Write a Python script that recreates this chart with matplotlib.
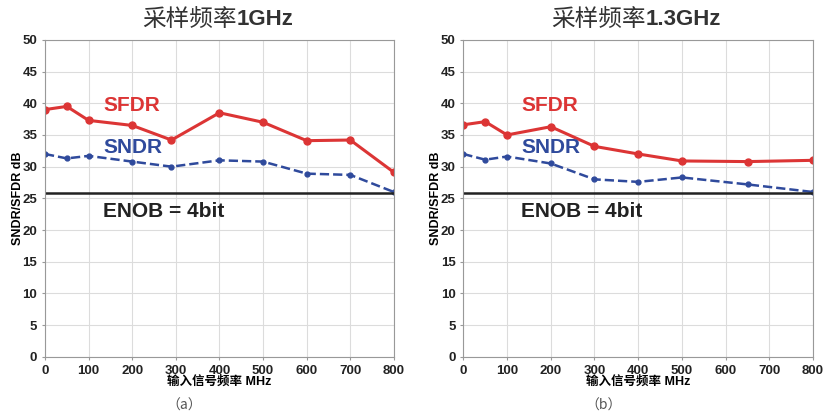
import matplotlib
matplotlib.use("Agg")
import matplotlib.pyplot as plt

plt.rcParams['font.family'] = ['Liberation Sans', 'Noto Sans CJK SC', 'DejaVu Sans']

# (a) 1 GHz sampling
freq_a = [0, 50, 100, 200, 290, 400, 500, 600, 700, 800]
sfdr_a = [39.0, 39.5, 37.3, 36.5, 34.2, 38.5, 37.0, 34.1, 34.2, 29.1]
sndr_a = [32.0, 31.3, 31.7, 30.8, 30.0, 31.0, 30.8, 28.9, 28.7, 26.0]

# (b) 1.3 GHz sampling
freq_b = [0, 50, 100, 200, 300, 400, 500, 650, 800]
sfdr_b = [36.6, 37.1, 35.0, 36.3, 33.2, 32.0, 30.9, 30.8, 31.0]
sndr_b = [32.0, 31.1, 31.6, 30.5, 28.0, 27.6, 28.3, 27.2, 26.0]

enob_db = 6.02 * 4 + 1.76
titles_cn = ['采样频率', '采样频率']
titles_en = ['1GHz', '1.3GHz']
sub_labels = ['（a）', '（b）']

red = '#dc3535'
blue = '#2f4a9c'

fig = plt.figure(figsize=(8.25, 4.15), dpi=100)
axes = [fig.add_axes([0.0545, 0.14, 0.423, 0.764]),
        fig.add_axes([0.5616, 0.14, 0.424, 0.764])]

data = [(freq_a, sfdr_a, sndr_a), (freq_b, sfdr_b, sndr_b)]
title_x = [0.55, 0.52]

for i, ax in enumerate(axes):
    f, sfdr, sndr = data[i]
    ax.plot(f, sfdr, '-o', color=red, lw=2.2, ms=5)
    ax.plot(f, sndr, '--o', color=blue, lw=1.8, ms=3.5)
    ax.axhline(enob_db, color='#222222', lw=1.8)

    ax.set_xlim(0, 800)
    ax.set_ylim(0, 50)
    ax.set_xticks(range(0, 801, 100))
    ax.set_yticks(range(0, 51, 5))
    ax.grid(True, color='#dcdcdc', lw=0.8)
    for s in ax.spines.values():
        s.set_color('#999999')
    ax.tick_params(labelsize=9.5, colors='#999999', labelcolor='#222222', length=2)
    for lab in ax.get_xticklabels() + ax.get_yticklabels():
        lab.set_fontweight('bold')

    ax.set_ylabel('SNDR/SFDR dB', fontsize=9, fontweight='bold', labelpad=-1)
    ax.set_xlabel('输入信号频率 MHz', fontsize=9, fontweight='bold', labelpad=-1)

    ax.text(133, 39.7, 'SFDR', color=red, fontsize=15, fontweight='bold', va='center')
    ax.text(133, 33.0, 'SNDR', color=blue, fontsize=15, fontweight='bold', va='center')
    ax.text(133, 22.9, 'ENOB = 4bit', color='#222222', fontsize=15,
            fontweight='bold', va='center')

    ax.text(title_x[i], 1.063, titles_cn[i], transform=ax.transAxes, ha='right',
            va='center', fontsize=17, family=['Noto Sans CJK SC', 'DejaVu Sans'],
            color='#333333')
    ax.text(title_x[i], 1.063, titles_en[i], transform=ax.transAxes, ha='left',
            va='center', fontsize=16, fontweight='bold', color='#333333')
    ax.text(0.4, -0.155, sub_labels[i], transform=ax.transAxes, ha='center',
            va='center', fontsize=10, color='#555555',
            family=['Noto Sans CJK SC', 'DejaVu Sans'])

fig.savefig('out.png', dpi=100)
